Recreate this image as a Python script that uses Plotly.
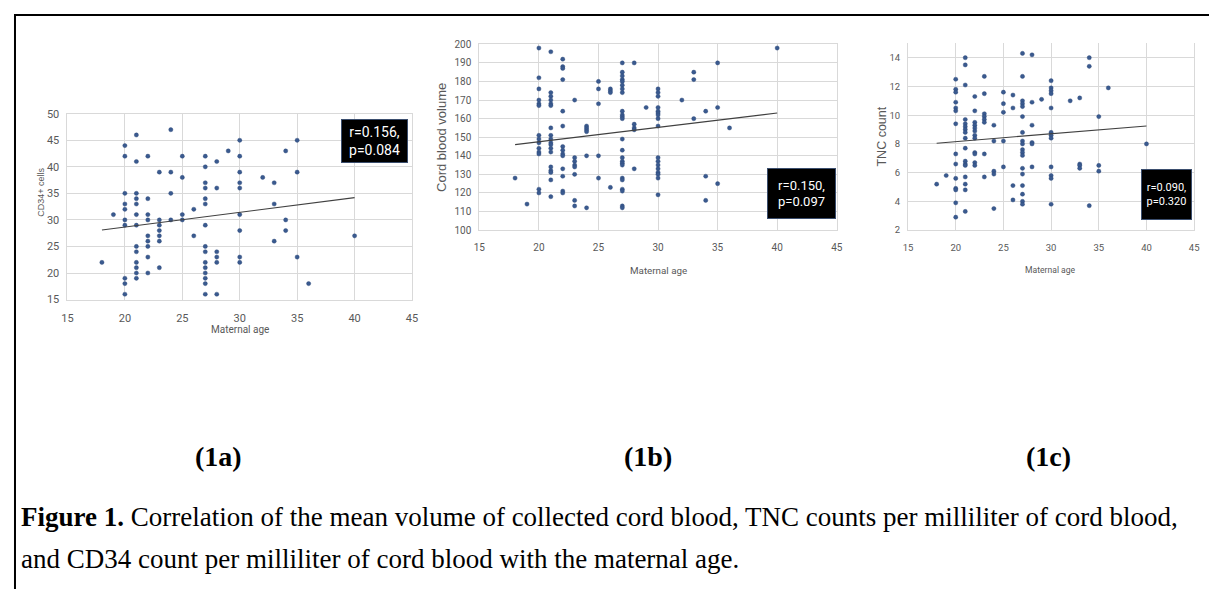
import plotly.graph_objects as go

# ---------------- data ----------------
# Panel 1a: CD34+ cells vs maternal age
cd34_ages = [18, 19, 20, 21, 22, 23, 24, 25, 26, 27, 28, 29, 30, 32, 33, 34, 35, 36, 40]
cd34_values = [
    [22], [31],
    [44, 42, 35, 33, 32, 30, 29, 19, 18, 16],
    [46, 41, 35, 34, 33, 31, 29, 25, 24, 22, 21, 20, 19],
    [42, 34, 31, 30, 27, 26, 25, 23, 20],
    [39, 30, 29, 28, 27, 26, 21],
    [47, 39, 35, 30],
    [42, 38, 31, 30],
    [32, 27],
    [42, 40, 37, 36, 34, 33, 29, 25, 24, 22, 21, 20, 19, 18, 16],
    [41, 36, 24, 23, 22, 16],
    [43],
    [45, 42, 39, 37, 36, 31, 28, 23, 22],
    [38],
    [37, 33, 26],
    [43, 30, 28],
    [45, 39, 23],
    [18],
    [27],
]

# Panel 1b: cord blood volume vs maternal age
volume_ages = [18, 19, 20, 21, 22, 23, 24, 25, 26, 27, 28, 29, 30, 32, 33, 34, 35, 36, 40]
volume_values = [
    [128], [114],
    [198, 182, 176, 170, 168, 167, 151, 149, 147, 144, 142, 141, 122, 120],
    [196, 174, 172, 170, 168, 167, 155, 151, 149, 147, 146, 144, 142, 134, 132, 131, 127, 118],
    [192, 188, 187, 181, 164, 156, 145, 143, 141, 140, 133, 129, 121, 120],
    [170, 139, 137, 135, 134, 130, 116, 113],
    [156, 155, 154, 153, 140, 112],
    [180, 176, 168, 140, 128],
    [176, 175, 174, 123],
    [190, 185, 183, 181, 180, 178, 176, 174, 164, 162, 161, 160, 149, 143, 139, 137, 136, 135,
     128, 127, 122, 121, 113, 112],
    [190, 157, 155, 154, 133],
    [166],
    [176, 174, 172, 166, 164, 163, 162, 160, 156, 139, 137, 135, 133, 131, 130, 128, 119],
    [170],
    [185, 181, 160],
    [164, 129, 116],
    [190, 166, 125],
    [155],
    [198],
]

# Panel 1c: TNC count vs maternal age
tnc_ages = [18, 19, 20, 21, 22, 23, 24, 25, 26, 27, 28, 29, 30, 32, 33, 34, 35, 36, 40]
tnc_values = [
    [5.2], [5.8],
    [12.5, 11.8, 11.6, 10.9, 10.5, 10.3, 9.4, 7.3, 6.6, 5.6, 4.9, 4.8, 3.9, 2.9],
    [14.0, 13.5, 12.1, 9.7, 9.4, 9.2, 9.0, 8.8, 8.4, 7.7, 6.8, 6.6, 6.5, 5.7, 5.2, 4.8, 3.3],
    [11.3, 10.3, 9.5, 9.3, 9.1, 8.9, 8.6, 8.4, 7.4, 7.3, 6.7, 6.5],
    [12.7, 11.5, 10.1, 9.9, 9.7, 9.5, 7.3, 5.7],
    [9.3, 8.2, 6.1, 5.9, 3.5],
    [11.6, 10.8, 10.2, 8.2, 6.4],
    [11.4, 10.5, 5.1, 4.1],
    [14.3, 12.7, 11.0, 10.8, 10.6, 9.9, 8.8, 8.2, 8.0, 7.6, 7.4, 7.2, 6.3, 5.9, 5.1, 4.5, 4.0, 3.8],
    [14.2, 10.9, 9.3, 8.1, 8.0, 6.4],
    [11.1],
    [12.4, 11.9, 11.7, 11.5, 10.5, 8.8, 8.6, 8.4, 6.4, 5.8, 5.6, 3.8],
    [11.0],
    [11.2, 6.6, 6.5, 6.3],
    [14.0, 13.4, 3.7],
    [9.9, 6.5, 6.1],
    [11.9],
    [8.0],
]

# Linear trend lines (end points)
trend_ages = [18, 40]
cd34_trend = [28.1, 34.2]
volume_trend = [146, 163]
tnc_trend = [8.05, 9.25]

stats_text = ["r=0.156,<br>p=0.084", "r=0.150,<br>p=0.097", "r=0.090,<br>p=0.320"]
y_titles = ["CD34+ cells", "Cord blood volume", "TNC count"]
x_title = "Maternal age"
panel_labels = ["(1a)", "(1b)", "(1c)"]
caption_line1 = "<b>Figure 1.</b> Correlation of the mean volume of collected cord blood, TNC counts per milliliter of cord blood,"
caption_line2 = "and CD34 count per milliliter of cord blood with the maternal age."


def expand(ages, values):
    xs, ys = [], []
    for a, vals in zip(ages, values):
        for v in vals:
            xs.append(a)
            ys.append(v)
    return xs, ys


# ---------------- layout geometry (page pixels) ----------------
PAGE_W, PAGE_H = 1217, 596
OFF = 8                       # default body margin of the html page
W, H = PAGE_W - OFF, PAGE_H - OFF


def px(x):
    return (x - OFF) / W


def py(y):
    return 1 - (y - OFF) / H


panels = [
    dict(x0=62, x1=410, y0=110, y1=300, yr=[15, 50], dt=5, t0=15, tf=11,
         box=(339, 406, 116, 160), bf=14,
         ytitle=(35, 190), ysz=9, xtitle=(236, 331), xsz=10),
    dict(x0=478, x1=839, y0=39, y1=229, yr=[100, 200], dt=10, t0=100, tf=10,
         box=(769, 838, 166, 217), bf=13,
         ytitle=(440, 134), ysz=13, xtitle=(659, 270), xsz=9.8),
    dict(x0=911, x1=1200, y0=38, y1=229, yr=[2, 15], dt=2, t0=2, tf=9.5,
         box=(1147, 1198, 167, 218), bf=11,
         ytitle=(885, 133), ysz=12.5, xtitle=(1055, 270), xsz=8.6),
]

series = [expand(cd34_ages, cd34_values), expand(volume_ages, volume_values),
          expand(tnc_ages, tnc_values)]
trends = [cd34_trend, volume_trend, tnc_trend]

NARROW = "Liberation Sans Narrow, Arial Narrow, Roboto, sans-serif"
GRID = "#d9d9d9"
TICKC = "#595959"
MARK = "#3a5a8f"

fig = go.Figure()
annotations = []
for i, (p, (xs, ys), tr) in enumerate(zip(panels, series, trends)):
    n = "" if i == 0 else str(i + 1)
    xa, ya = "x" + n, "y" + n
    fig.add_trace(go.Scatter(x=xs, y=ys, mode="markers", xaxis=xa, yaxis=ya,
                             marker=dict(size=4.2, color=MARK,
                                         line=dict(width=0.4, color="#2a4677")),
                             showlegend=False, hoverinfo="x+y"))
    fig.add_trace(go.Scatter(x=trend_ages, y=tr, mode="lines", xaxis=xa, yaxis=ya,
                             line=dict(color="#404040", width=1.1),
                             showlegend=False, hoverinfo="skip"))
    fig.layout["xaxis" + n] = dict(
        domain=[px(p["x0"]), px(p["x1"])], range=[15, 45], tick0=15, dtick=5,
        anchor=ya, showgrid=True, gridcolor=GRID, gridwidth=1, zeroline=False,
        showline=True, linecolor=GRID, linewidth=1, mirror=(i != 2),
        ticks="outside", ticklen=8, tickcolor="rgba(0,0,0,0)",
        tickfont=dict(family=NARROW, size=p["tf"], color=TICKC), fixedrange=True)
    fig.layout["yaxis" + n] = dict(
        domain=[py(p["y1"]), py(p["y0"])], range=p["yr"], tick0=p["t0"], dtick=p["dt"],
        anchor=xa, showgrid=True, gridcolor=GRID, gridwidth=1, zeroline=False,
        showline=True, linecolor=GRID, linewidth=1, mirror=True,
        ticks="outside", ticklen=5, tickcolor="rgba(0,0,0,0)",
        tickfont=dict(family=NARROW, size=p["tf"], color=TICKC), fixedrange=True)

    bx0, bx1, by0, by1 = p["box"]
    annotations.append(dict(
        xref="paper", yref="paper", x=px((bx0 + bx1) / 2), y=py((by0 + by1) / 2),
        xanchor="center", yanchor="middle", text=stats_text[i], showarrow=False,
        width=bx1 - bx0 - 2, height=by1 - by0 - 2, bgcolor="black",
        bordercolor="#3b4e6e", borderwidth=1, borderpad=0, align="center",
        font=dict(family=NARROW, size=p["bf"], color="white")))
    annotations.append(dict(
        xref="paper", yref="paper", x=px(p["ytitle"][0]), y=py(p["ytitle"][1]),
        xanchor="center", yanchor="middle", text=y_titles[i], textangle=-90,
        showarrow=False, font=dict(family="Liberation Sans, Arial, sans-serif",
                                   size=p["ysz"], color=TICKC)))
    annotations.append(dict(
        xref="paper", yref="paper", x=px(p["xtitle"][0]), y=py(p["xtitle"][1]),
        xanchor="center", yanchor="middle", text=x_title, showarrow=False,
        font=dict(family=NARROW, size=p["xsz"], color=TICKC)))

SERIF = "Liberation Serif, Times New Roman, serif"
for lab, cx in zip(panel_labels, [215, 648, 1053]):
    annotations.append(dict(
        xref="paper", yref="paper", x=px(cx), y=py(461), xanchor="center", yanchor="middle",
        text="<b>" + lab + "</b>", showarrow=False,
        font=dict(family=SERIF, size=28, color="black")))

annotations.append(dict(
    xref="paper", yref="paper", x=px(13), y=py(522), xanchor="left", yanchor="middle",
    text=caption_line1, showarrow=False, font=dict(family=SERIF, size=27, color="black")))
annotations.append(dict(
    xref="paper", yref="paper", x=px(13), y=py(565), xanchor="left", yanchor="middle",
    text=caption_line2, showarrow=False, font=dict(family=SERIF, size=27, color="black")))

shapes = [
    dict(type="line", xref="paper", yref="paper", x0=px(9), x1=1, y0=py(9), y1=py(9),
         line=dict(color="black", width=2)),
    dict(type="line", xref="paper", yref="paper", x0=px(9), x1=px(9), y0=py(8), y1=0,
         line=dict(color="black", width=2)),
]

fig.update_layout(width=W, height=H, margin=dict(l=0, r=0, t=0, b=0),
                  paper_bgcolor="white", plot_bgcolor="white",
                  annotations=annotations, shapes=shapes, showlegend=False)

fig.write_html("out.html")
